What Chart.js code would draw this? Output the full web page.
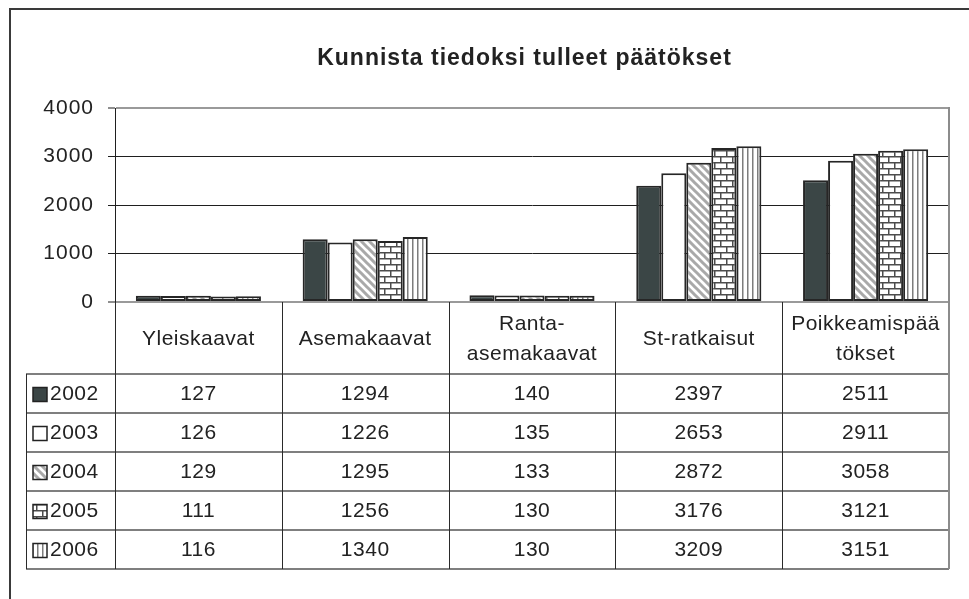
<!DOCTYPE html>
<html>
<head>
<meta charset="utf-8">
<title>Kunnista tiedoksi tulleet päätökset</title>
<script src="https://cdn.jsdelivr.net/npm/chart.js@4.4.1/dist/chart.umd.min.js"></script>
<style>
    html, body { margin: 0; padding: 0; background: #fff; }
    #wrap { width: 969px; height: 599px; position: relative; }
</style>
</head>
<body>
<div id="wrap"><canvas id="chart"></canvas></div>
<script>
// data
const categories = ['Yleiskaavat', 'Asemakaavat', ['Ranta-', 'asemakaavat'], 'St-ratkaisut', ['Poikkeamispää', 'tökset']];
const years = ['2002', '2003', '2004', '2005', '2006'];
const values2002 = [127, 1294, 140, 2397, 2511];
const values2003 = [126, 1226, 135, 2653, 2911];
const values2004 = [129, 1295, 133, 2872, 3058];
const values2005 = [111, 1256, 130, 3176, 3121];
const values2006 = [116, 1340, 130, 3209, 3151];
const yTicks = [0, 1000, 2000, 3000, 4000];

const FONT = "'Liberation Sans', Arial, sans-serif";
const TEXT = '#222';

/**
 * Build a fill pattern for one series
 * @param {string} kind - solid | white | diag | brick | vbar
 */
function makeFill(kind) {
    if (kind === 'solid') return '#3b4646';
    if (kind === 'white') return '#ffffff';
    const c = document.createElement('canvas');
    const g = c.getContext('2d');
    if (kind === 'diag') {
        c.width = 8; c.height = 8;
        g.fillStyle = '#fff'; g.fillRect(0, 0, 8, 8);
        g.strokeStyle = '#a9a9a9'; g.lineWidth = 3;
        g.beginPath();
        g.moveTo(-2, -2); g.lineTo(10, 10);
        g.moveTo(-2, 6); g.lineTo(2, 10);
        g.moveTo(6, -2); g.lineTo(10, 2);
        g.stroke();
    } else if (kind === 'brick') {
        c.width = 12; c.height = 12;
        g.fillStyle = '#fff'; g.fillRect(0, 0, 12, 12);
        g.fillStyle = '#4c4c4c';
        g.fillRect(0, 0, 12, 1.5);
        g.fillRect(0, 6, 12, 1.5);
        g.fillRect(0, 0, 1.5, 6);
        g.fillRect(6, 6, 1.5, 6);
    } else if (kind === 'vbar') {
        c.width = 5; c.height = 4;
        g.fillStyle = '#fff'; g.fillRect(0, 0, 5, 4);
        g.fillStyle = '#7d7d7d'; g.fillRect(2, 0, 1.5, 4);
    }
    return g.createPattern(c, 'repeat');
}

const seriesValues = [values2002, values2003, values2004, values2005, values2006];
const seriesFills = ['solid', 'white', 'diag', 'brick', 'vbar'].map(makeFill);

// table row sizes (px)
const TABLE_LEFT = 26;
const HEAD_H = 72;
const ROW_H = 39;

const framePlugin = {
    id: 'frameAndTable',
    beforeDraw(chart) {
        const ctx = chart.ctx;
        ctx.save();
        ctx.fillStyle = '#fff';
        ctx.fillRect(0, 0, chart.width, chart.height);
        // outer chart border, runs off the right and bottom edges
        ctx.strokeStyle = '#3a3a3a';
        ctx.lineWidth = 2;
        ctx.beginPath();
        ctx.moveTo(10, chart.height);
        ctx.lineTo(10, 9);
        ctx.lineTo(chart.width, 9);
        ctx.stroke();
        ctx.restore();
        ctx.letterSpacing = '1px';
    },
    afterDraw(chart) {
        const ctx = chart.ctx;
        const a = chart.chartArea;
        const colW = (a.right - a.left) / categories.length;
        const headBottom = a.bottom + HEAD_H;
        const tableBottom = headBottom + ROW_H * years.length;

        ctx.save();
        ctx.letterSpacing = '0.5px';

        // horizontal rules
        ctx.strokeStyle = '#555';
        ctx.lineWidth = 1.5;
        ctx.beginPath();
        for (let i = 0; i <= years.length; i++) {
            const y = headBottom + i * ROW_H;
            ctx.moveTo(TABLE_LEFT, y);
            ctx.lineTo(a.right, y);
        }
        ctx.stroke();

        // vertical rules
        ctx.strokeStyle = '#2a2a2a';
        ctx.lineWidth = 1;
        ctx.beginPath();
        ctx.moveTo(TABLE_LEFT + 0.5, headBottom);
        ctx.lineTo(TABLE_LEFT + 0.5, tableBottom);
        for (let k = 0; k < categories.length; k++) {
            const x = Math.round(a.left + k * colW) + 0.5;
            ctx.moveTo(x, a.bottom);
            ctx.lineTo(x, tableBottom);
        }
        ctx.stroke();

        // right border (plot + table)
        ctx.strokeStyle = '#8c8c8c';
        ctx.lineWidth = 2;
        ctx.beginPath();
        ctx.moveTo(a.right, a.top - 1);
        ctx.lineTo(a.right, tableBottom);
        ctx.stroke();

        ctx.fillStyle = TEXT;
        ctx.font = '21px ' + FONT;
        ctx.textAlign = 'center';
        ctx.textBaseline = 'middle';

        // category header row
        categories.forEach((cat, i) => {
            const cx = a.left + (i + 0.5) * colW;
            const lines = Array.isArray(cat) ? cat : [cat];
            const cy = a.bottom + HEAD_H / 2 + 1;
            lines.forEach((line, j) => {
                ctx.fillText(line, cx, cy + (j - (lines.length - 1) / 2) * 30);
            });
        });

        // data rows with legend keys
        years.forEach((year, r) => {
            const cy = headBottom + (r + 0.5) * ROW_H + 1;
            seriesValues[r].forEach((v, i) => {
                ctx.textAlign = 'center';
                ctx.fillText(String(v), a.left + (i + 0.5) * colW, cy);
            });
            ctx.fillStyle = seriesFills[r];
            ctx.fillRect(33, cy - 7, 14, 14);
            ctx.strokeStyle = '#222';
            ctx.lineWidth = 1.5;
            ctx.strokeRect(33, cy - 7, 14, 14);
            ctx.fillStyle = TEXT;
            ctx.textAlign = 'left';
            ctx.fillText(year, 50, cy);
        });
        ctx.restore();
    }
};

const ctx = document.getElementById('chart');

new Chart(ctx, {
    type: 'bar',
    data: {
        labels: categories,
        datasets: years.map((year, i) => ({
            label: year,
            data: seriesValues[i],
            backgroundColor: seriesFills[i],
            borderColor: '#262626',
            borderWidth: 2,
            borderSkipped: false
        }))
    },
    options: {
        responsive: true,
        maintainAspectRatio: false,
        animation: false,
        devicePixelRatio: 1,
        layout: {
            // uneven left/right padding puts the title centre where the reference has it
            padding: { top: 9, right: -40, bottom: 297, left: 40 }
        },
        datasets: {
            bar: { categoryPercentage: 0.75, barPercentage: 1 }
        },
        scales: {
            x: {
                display: false
            },
            y: {
                min: 0,
                max: 4000,
                afterBuildTicks: scale => {
                    scale.ticks = yTicks.map(v => ({ value: v }));
                },
                afterFit: scale => {
                    scale.width = 75;
                },
                ticks: {
                    padding: 14,
                    color: TEXT,
                    font: { family: FONT, size: 21 },
                    callback: value => String(value)
                },
                grid: {
                    color: c => (c.tick.value === 0 || c.tick.value === 4000) ? '#9a9a9a' : '#1f1f1f',
                    lineWidth: c => (c.tick.value === 0 || c.tick.value === 4000) ? 2 : 1,
                    tickColor: '#1f1f1f',
                    tickWidth: 1,
                    tickLength: 7
                },
                border: { color: '#1f1f1f', width: 1 }
            },
            // empty spacer on the right, keeps the plot edge at the reference position
            spacer: {
                type: 'linear',
                position: 'right',
                display: true,
                grid: { display: false },
                ticks: { display: false },
                border: { display: false },
                afterFit: scale => {
                    scale.width = 60;
                }
            }
        },
        plugins: {
            legend: { display: false },
            tooltip: { enabled: false },
            title: {
                display: true,
                text: 'Kunnista tiedoksi tulleet päätökset',
                color: TEXT,
                font: { family: FONT, size: 23, weight: 'bold' },
                padding: { top: 36, bottom: 35.4 }
            }
        }
    },
    plugins: [framePlugin]
});
</script>
</body>
</html>
